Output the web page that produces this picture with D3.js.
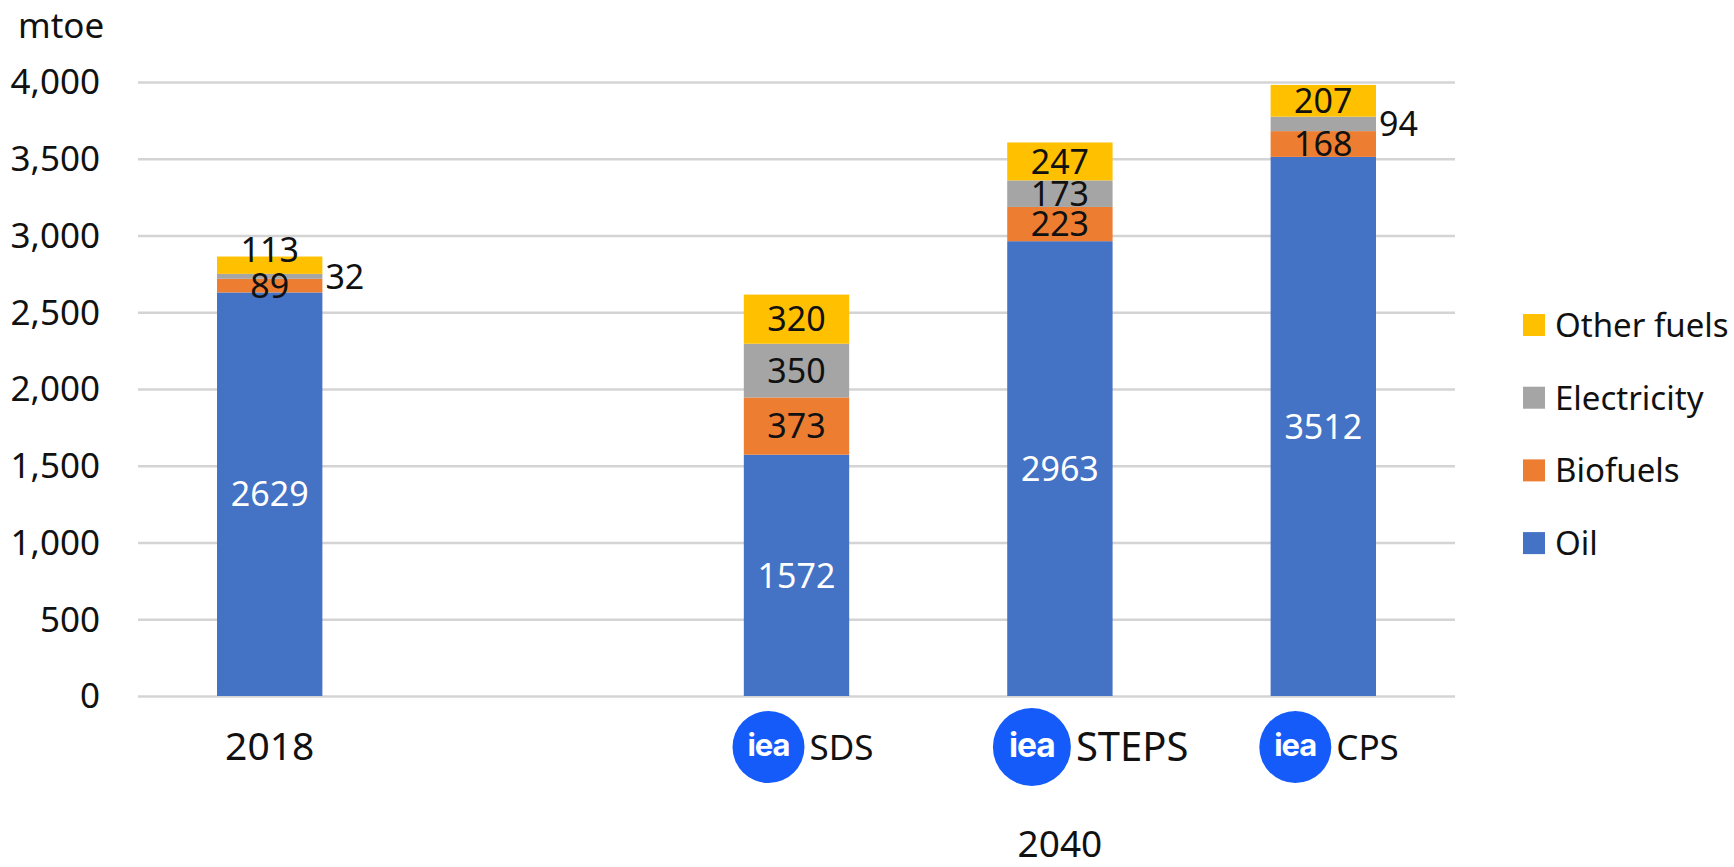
<!DOCTYPE html>
<html>
<head>
<meta charset="utf-8">
<script src="https://cdn.jsdelivr.net/npm/d3@7"></script>
<style>
  body { margin: 0; background: #fff; }
  svg text { font-family: "Noto Sans", sans-serif; }
</style>
</head>
<body>
<div class="chart"></div>
<script>
  // data (mtoe)
  var categories = ["2018", "SDS", "STEPS", "CPS"];
  var oil = [2629, 1572, 2963, 3512];
  var biofuels = [89, 373, 223, 168];
  var electricity = [32, 350, 173, 94];
  var otherFuels = [113, 320, 247, 207];
  var seriesNames = ["Oil", "Biofuels", "Electricity", "Other fuels"];
  var seriesColors = ["#4472C4", "#ED7D31", "#A5A5A5", "#FFC000"];
  var yTicks = [0, 500, 1000, 1500, 2000, 2500, 3000, 3500, 4000];
  var scenarios = ["SDS", "STEPS", "CPS"];

  var margin = { top: 82, right: 279, bottom: 171, left: 138 };
  var W = 1734, H = 867;
  var width = W - margin.left - margin.right,
      height = H - margin.top - margin.bottom;

  // a blank slot sits between 2018 and the 2040 scenarios
  var slots = ["2018", "_gap", "SDS", "STEPS", "CPS"];

  var x = d3.scaleBand()
    .domain(slots)
    .range([0, width])
    .paddingInner(0.6)
    .paddingOuter(0.3);

  var y = d3.scaleLinear()
    .domain([0, 4000])
    .range([height, 0]);

  var rows = categories.map(function(c, i) {
    return { cat: c, "Oil": oil[i], "Biofuels": biofuels[i], "Electricity": electricity[i], "Other fuels": otherFuels[i] };
  });
  var stacked = d3.stack().keys(seriesNames)(rows);

  var svg = d3.select(".chart").append("svg")
    .attr("width", W)
    .attr("height", H);

  var chart = svg.append("g")
    .attr("transform", "translate(" + margin.left + "," + margin.top + ")");

  // gridlines + tick labels
  var yAxis = chart.append("g")
    .call(d3.axisLeft(y).tickValues(yTicks).tickFormat(d3.format(",")).tickSize(-width).tickPadding(38));
  yAxis.select(".domain").remove();
  yAxis.selectAll(".tick line").attr("stroke", "#d4d4d4").attr("stroke-width", 2.5);
  yAxis.selectAll(".tick text").attr("fill", "#111").style("font-size", "35px")
    .attr("dy", "0.34em");

  chart.append("text")
    .attr("x", 18 - margin.left)
    .attr("y", 38 - margin.top)
    .style("font-size", "35px")
    .attr("fill", "#111")
    .text("mtoe");

  // bars
  var layer = chart.selectAll(".layer")
    .data(stacked)
    .enter().append("g")
    .attr("class", "layer")
    .attr("fill", function(d, i) { return seriesColors[i]; });

  layer.selectAll("rect")
    .data(function(d) { return d; })
    .enter().append("rect")
    .attr("x", function(d) { return x(d.data.cat); })
    .attr("width", x.bandwidth())
    .attr("y", function(d) { return y(d[1]); })
    .attr("height", function(d) { return y(d[0]) - y(d[1]); });

  // value labels
  var outside = ["2018|Electricity", "CPS|Electricity"];
  var shift = { "2018|Other fuels": -15 };

  stacked.forEach(function(s) {
    s.forEach(function(d) {
      var key = d.data.cat + "|" + s.key;
      var val = d[1] - d[0];
      var cy = (y(d[0]) + y(d[1])) / 2 + (shift[key] || 0);
      var isOut = outside.indexOf(key) >= 0;
      chart.append("text")
        .attr("x", isOut ? x(d.data.cat) + x.bandwidth() + 3 : x(d.data.cat) + x.bandwidth() / 2)
        .attr("y", cy)
        .attr("dy", "0.36em")
        .attr("text-anchor", isOut ? "start" : "middle")
        .attr("fill", s.key === "Oil" ? "#fff" : "#111")
        .style("font-size", "34px")
        .text(val);
    });
  });

  // x labels
  chart.append("text")
    .attr("x", x("2018") + x.bandwidth() / 2)
    .attr("y", 746 - margin.top)
    .attr("dy", "0.36em")
    .attr("text-anchor", "middle")
    .attr("fill", "#111")
    .style("font-size", "39px")
    .text("2018");

  var logoR = { "SDS": 36, "STEPS": 39, "CPS": 36 };
  scenarios.forEach(function(sc) {
    var cx = x(sc) + x.bandwidth() / 2 - 28;
    var cy = 747 - margin.top;
    var r = logoR[sc];
    var g = chart.append("g");
    g.append("circle")
      .attr("cx", cx).attr("cy", cy).attr("r", r)
      .attr("fill", "#145BFA");
    g.append("text")
      .attr("x", cx).attr("y", cy)
      .attr("dy", "0.3em")
      .attr("text-anchor", "middle")
      .attr("fill", "#fff")
      .style("font-family", "Inter, sans-serif")
      .style("font-weight", 700)
      .style("letter-spacing", "-1px")
      .style("font-size", (r * 0.86) + "px")
      .text("iea");
    g.append("text")
      .attr("x", cx + r + 5)
      .attr("y", cy)
      .attr("dy", "0.36em")
      .attr("fill", "#111")
      .style("font-size", sc === "STEPS" ? "40px" : "35px")
      .text(sc);
  });

  chart.append("text")
    .attr("x", x("STEPS") + x.bandwidth() / 2)
    .attr("y", 844 - margin.top)
    .attr("dy", "0.36em")
    .attr("text-anchor", "middle")
    .attr("fill", "#111")
    .style("font-size", "37px")
    .text("2040");

  // legend, top to bottom
  var legend = svg.append("g")
    .attr("transform", "translate(1523,325)");
  seriesNames.slice().reverse().forEach(function(name, i) {
    var idx = seriesNames.indexOf(name);
    legend.append("rect")
      .attr("x", 0).attr("y", i * 72.7 - 11)
      .attr("width", 22).attr("height", 22)
      .attr("fill", seriesColors[idx]);
    legend.append("text")
      .attr("x", 32).attr("y", i * 72.7)
      .attr("dy", "0.36em")
      .attr("fill", "#111")
      .style("font-size", "33px")
      .text(name);
  });
</script>
</body>
</html>
